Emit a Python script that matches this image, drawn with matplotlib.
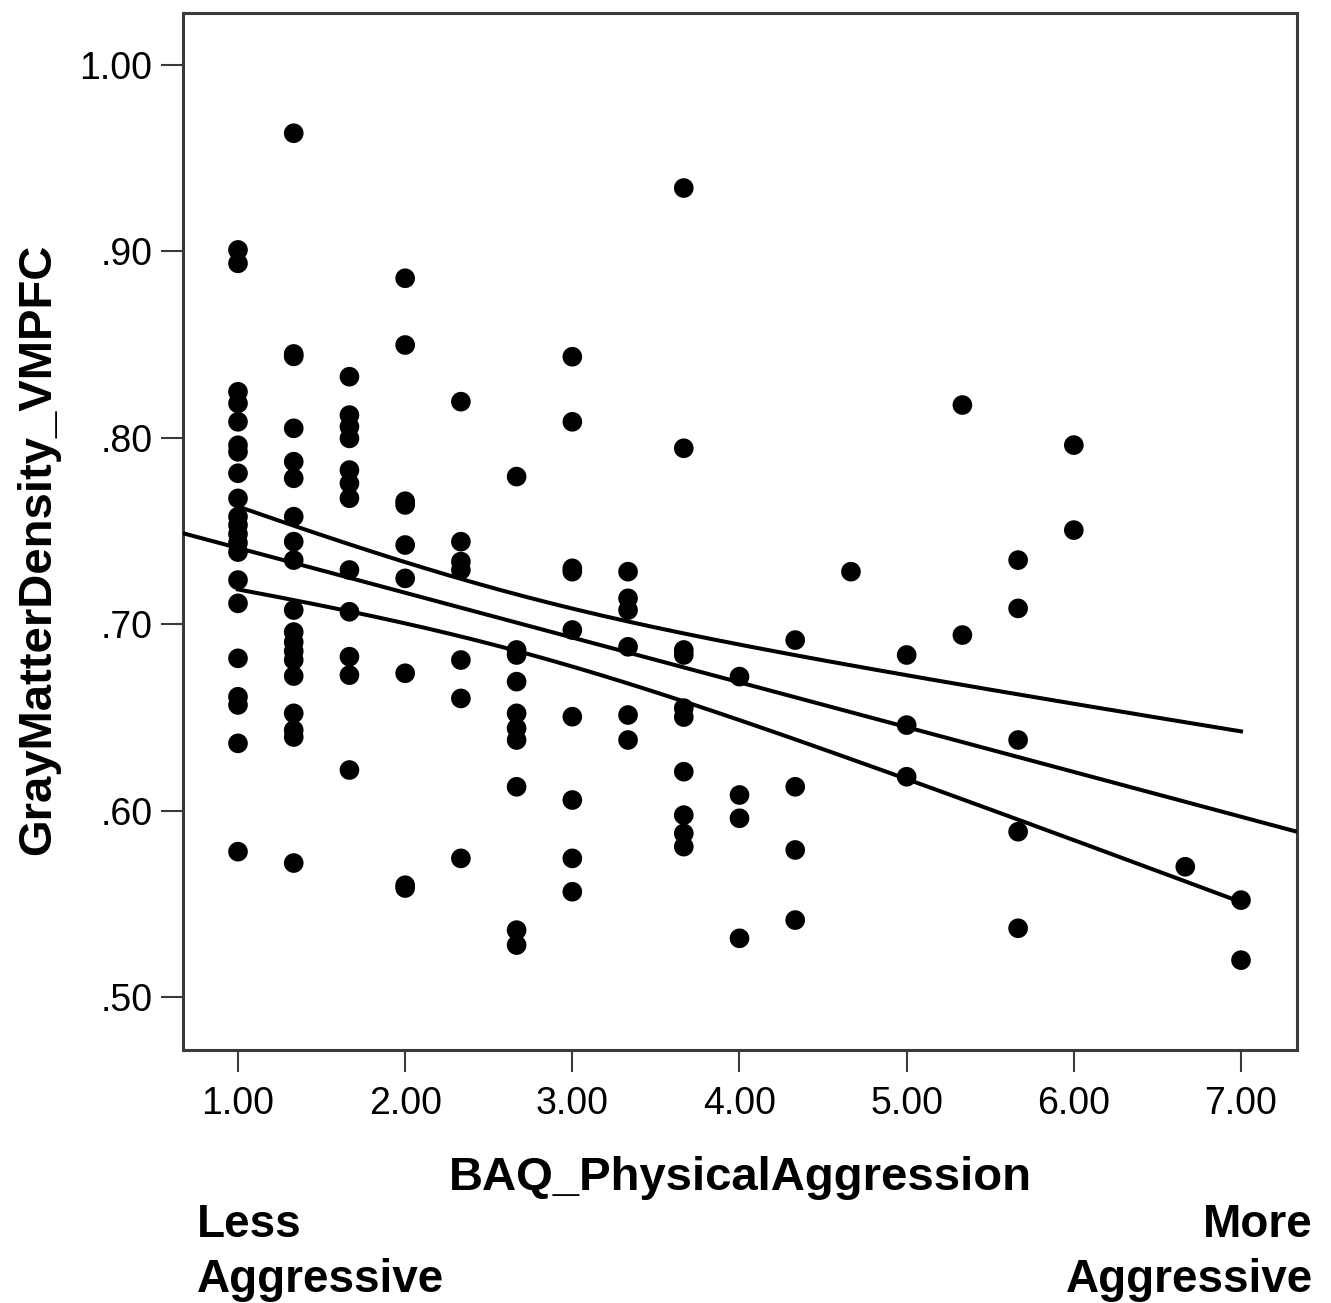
import numpy as np
import matplotlib
matplotlib.use("Agg")
import matplotlib.pyplot as plt

# ---- data (BAQ score, gray matter density) ----
baq_1_00 = [0.9008, 0.8936, 0.8247, 0.8185, 0.8086, 0.7960, 0.7925, 0.7810, 0.7675,
            0.7577, 0.7532, 0.7484, 0.7436, 0.7387, 0.7237, 0.7112, 0.6817, 0.6611,
            0.6567, 0.6361, 0.5780]
baq_1_33 = [0.9634, 0.8450, 0.8437, 0.8051, 0.7872, 0.7783, 0.7577, 0.7443, 0.7344,
            0.7076, 0.6958, 0.6904, 0.6856, 0.6808, 0.6722, 0.6522, 0.6432, 0.6395,
            0.5719]
baq_1_67 = [0.8328, 0.8122, 0.8060, 0.7997, 0.7827, 0.7756, 0.7676, 0.7291, 0.7067,
            0.6826, 0.6727, 0.6218]
baq_2_00 = [0.8856, 0.8498, 0.7660, 0.7640, 0.7425, 0.7246, 0.6737, 0.5600, 0.5585]
baq_2_33 = [0.8194, 0.7443, 0.7336, 0.7291, 0.6808, 0.6602, 0.5744]
baq_2_67 = [0.7792, 0.6862, 0.6835, 0.6692, 0.6522, 0.6442, 0.6379, 0.6128, 0.5359,
            0.5279]
baq_3_00 = [0.8435, 0.8086, 0.7300, 0.7282, 0.6969, 0.6504, 0.6057, 0.5744, 0.5565]
baq_3_33 = [0.7282, 0.7139, 0.7076, 0.6879, 0.6513, 0.6379]
baq_3_67 = [0.9340, 0.7944, 0.6862, 0.6835, 0.6550, 0.6502, 0.6209, 0.5976, 0.5878,
            0.5807]
baq_4_00 = [0.6719, 0.6084, 0.5959, 0.5315]
baq_4_33 = [0.6915, 0.6128, 0.5789, 0.5413]
baq_4_67 = [0.7282]
baq_5_00 = [0.6835, 0.6459, 0.6182]
baq_5_33 = [0.8176, 0.6942]
baq_5_67 = [0.7344, 0.7085, 0.6379, 0.5887, 0.5369]
baq_6_00 = [0.7961, 0.7505]
baq_6_67 = [0.5699]
baq_7_00 = [0.5520, 0.5198]

baq_levels = [1.0, 4/3, 5/3, 2.0, 7/3, 8/3, 3.0, 10/3, 11/3, 4.0, 13/3, 14/3,
              5.0, 16/3, 17/3, 6.0, 20/3, 7.0]
gmd_groups = [baq_1_00, baq_1_33, baq_1_67, baq_2_00, baq_2_33, baq_2_67, baq_3_00,
              baq_3_33, baq_3_67, baq_4_00, baq_4_33, baq_4_67, baq_5_00, baq_5_33,
              baq_5_67, baq_6_00, baq_6_67, baq_7_00]

x_ticks = [1, 2, 3, 4, 5, 6, 7]
x_ticklabels = ["1.00", "2.00", "3.00", "4.00", "5.00", "6.00", "7.00"]
y_ticks = [0.5, 0.6, 0.7, 0.8, 0.9, 1.0]
y_ticklabels = [".50", ".60", ".70", ".80", ".90", "1.00"]

x = np.concatenate([[lv] * len(g) for lv, g in zip(baq_levels, gmd_groups)])
y = np.concatenate(gmd_groups)

# ---- linear fit and 95% CI of the mean ----
n = len(x)
b, a = np.polyfit(x, y, 1)
resid = y - (a + b * x)
s = np.sqrt(np.sum(resid ** 2) / (n - 2))
xbar = x.mean()
sxx = np.sum((x - xbar) ** 2)
t_crit = 1.976

plt.rcParams['font.family'] = ['Liberation Sans', 'DejaVu Sans']

W, H = 1331, 1303
fig = plt.figure(figsize=(W / 100, H / 100), dpi=100)
ax = fig.add_axes([183 / W, 1 - 1050 / H, (1297 - 183) / W, (1050 - 13) / H])

xmin, xmax = 0.671, 7.335
ymin, ymax = 0.4716, 1.0279
ax.set_xlim(xmin, xmax)
ax.set_ylim(ymin, ymax)

ax.scatter(x, y, s=200, color='black', edgecolors='none', zorder=3)

xf = np.linspace(xmin, xmax, 200)
ax.plot(xf, a + b * xf, color='black', lw=2.9, zorder=4, solid_capstyle='butt')
xc = np.linspace(x.min(), x.max(), 200)
half = t_crit * s * np.sqrt(1 / n + (xc - xbar) ** 2 / sxx)
ax.plot(xc, a + b * xc + half, color='black', lw=2.9, zorder=4)
ax.plot(xc, a + b * xc - half, color='black', lw=2.9, zorder=4)

for sp in ax.spines.values():
    sp.set_linewidth(2.2)
    sp.set_color('#3a3a3a')

ax.set_xticks(x_ticks)
ax.set_xticklabels(x_ticklabels)
ax.set_yticks(y_ticks)
ax.set_yticklabels(y_ticklabels)
ax.tick_params(axis='both', direction='out', length=16, width=1.5, color='#3a3a3a',
               labelsize=27, pad=6)
ax.tick_params(axis='x', pad=10)

fig.text(38 / W, 1 - 549 / H, "GrayMatterDensity_VMPFC", rotation=90, fontsize=34,
         fontweight='bold', ha='center', va='center')
fig.text(740 / W, 1 - 1190 / H, "BAQ_PhysicalAggression", fontsize=34,
         fontweight='bold', ha='center', va='baseline')
fig.text(197 / W, 1 - 1237 / H, "Less", fontsize=33, fontweight='bold',
         ha='left', va='baseline')
fig.text(197 / W, 1 - 1292 / H, "Aggressive", fontsize=33, fontweight='bold',
         ha='left', va='baseline')
fig.text(1313 / W, 1 - 1237 / H, "More", fontsize=33, fontweight='bold',
         ha='right', va='baseline')
fig.text(1313 / W, 1 - 1292 / H, "Aggressive", fontsize=33, fontweight='bold',
         ha='right', va='baseline')

fig.savefig("out.png", dpi=100, facecolor='white')
